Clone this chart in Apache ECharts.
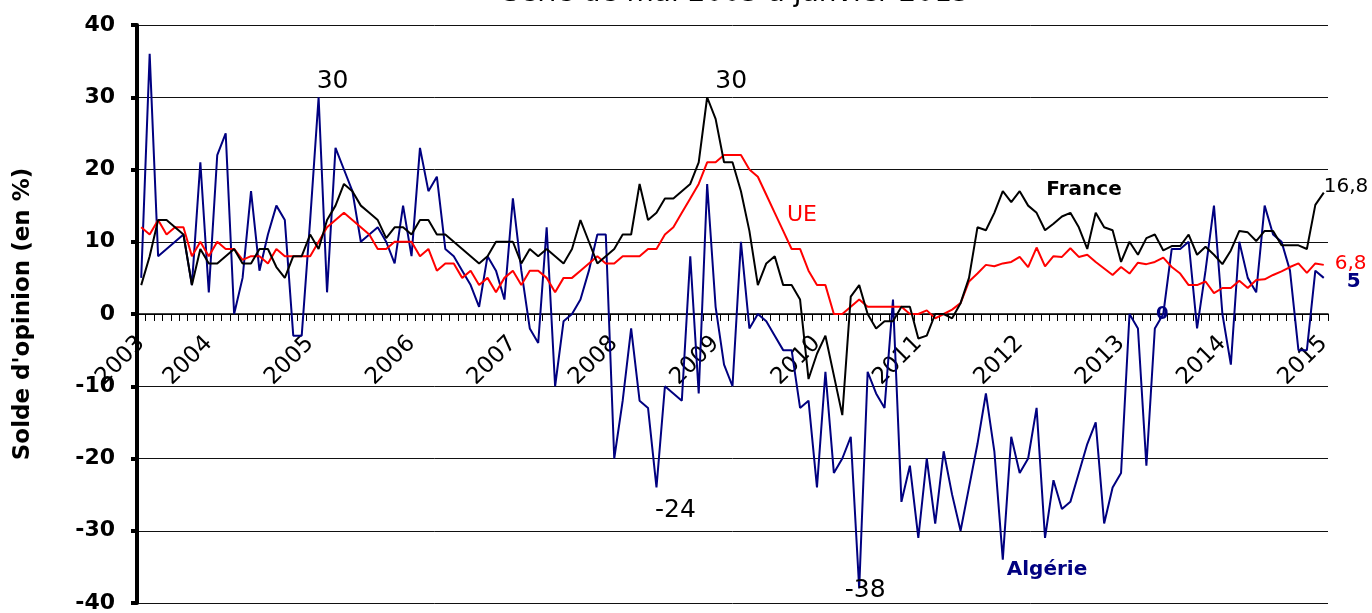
<!DOCTYPE html>
<html>
<head>
<meta charset="utf-8">
<script src="https://cdn.jsdelivr.net/npm/echarts@6/dist/echarts.min.js"></script>
<style>
  html, body { margin: 0; padding: 0; background: #fff; }
  #main { width: 1372px; height: 613px; }
</style>
</head>
<body>
<div id="main"></div>
<script>
// série mensuelle de mai 2003 à janvier 2015 (141 mois)
const startYear = 2003;
const startMonth = 5;
const nMonths = 141;

const categories = [];
for (let k = 0; k < nMonths; k++) {
  const m = startMonth - 1 + k;
  const mm = (m % 12) + 1;
  categories.push((startYear + Math.floor(m / 12)) + '-' + (mm < 10 ? '0' + mm : mm));
}

// Algérie
const algerie = [
  5, 36, 8, 9, 10, 11, 4, 21, 3, 22,
  25, 0, 5, 17, 6, 11, 15, 13, -3, -3,
  13, 30, 3, 23, 20, 17, 10, 11, 12, 10,
  7, 15, 8, 23, 17, 19, 9, 8, 6, 4,
  1, 8, 6, 2, 16, 6, -2, -4, 12, -10,
  -1, 0, 2, 6, 11, 11, -20, -12, -2, -12,
  -13, -24, -10, -11, -12, 8, -11, 18, 1, -7,
  -10, 10, -2, 0, -1, -3, -5, -5, -13, -12,
  -24, -8, -22, -20, -17, -38, -8, -11, -13, 2,
  -26, -21, -31, -20, -29, -19, -25, -30, -24, -18,
  -11, -19, -34, -17, -22, -20, -13, -31, -23, -27,
  -26, -22, -18, -15, -29, -24, -22, 0, -2, -21,
  -2, 0, 9, 9, 10, -2, 6, 15, 0, -7,
  10, 5, 3, 15, 11, 10, 6, -5, -5, 6,
  5
];

// UE
const ue = [
  12, 11, 13, 11, 12, 12, 8, 10, 8, 10,
  9, 9, 7.5, 8, 8, 7, 9, 8, 8, 8,
  8, 10, 12, 13, 14, 13, 12, 11, 9, 9,
  10, 10, 10, 8, 9, 6, 7, 7, 5, 6,
  4, 5, 3, 5, 6, 4, 6, 6, 5, 3,
  5, 5, 6, 7, 8, 7, 7, 8, 8, 8,
  9, 9, 11, 12, 14, 16, 18, 21, 21, 22,
  22, 22, 20, 19, 16.5, 14, 11.5, 9, 9, 6,
  4, 4, 0, 0, 1, 2, 1, 1, 1, 1,
  1, 0, 0, 0.5, -0.6, 0, 0.6, 1.5, 4.5, 5.6,
  6.8, 6.6, 7, 7.2, 7.9, 6.5, 9.2, 6.6, 8, 7.9,
  9.1, 7.9, 8.2, 7.2, 6.3, 5.4, 6.5, 5.6, 7.1, 6.9,
  7.2, 7.8, 6.5, 5.6, 4, 4, 4.5, 2.9, 3.6, 3.6,
  4.6, 3.6, 4.7, 4.8, 5.4, 5.9, 6.5, 7, 5.7, 7,
  6.8
];

// France
const france = [
  4, 8, 13, 13, 12, 11, 4, 9, 7, 7,
  8, 9, 7, 7, 9, 9, 6.5, 5, 8, 8,
  11, 9, 13, 15, 18, 17, 15, 14, 13, 10.5,
  12, 12, 11, 13, 13, 11, 11, 10, 9, 8,
  7, 8, 10, 10, 10, 7, 9, 8, 9, 8,
  7, 9, 13, 10, 7, 8, 9, 11, 11, 18,
  13, 14, 16, 16, 17, 18, 21, 30, 27, 21,
  21, 17, 11.5, 4, 7, 8, 4, 4, 2, -9,
  -5.5, -3, -8.5, -14, 2.4, 4, 0, -2, -1, -1,
  1, 1, -3.4, -3, 0, 0, -0.6, 1.5, 5, 12,
  11.6, 14, 17, 15.5, 17, 15, 14, 11.6, 12.5, 13.5,
  14, 12, 9, 14, 12, 11.6, 7.2, 10, 8.2, 10.5,
  11, 8.8, 9.4, 9.4, 11, 8.2, 9.3, 8.2, 6.9, 8.8,
  11.5, 11.3, 10.1, 11.5, 11.5, 9.5, 9.5, 9.5, 9, 15.1,
  16.8
];

const FONT = '"DejaVu Sans", sans-serif';
const NAVY = '#000080';

let chart = echarts.init(document.getElementById('main'));

let option = {
  animation: false,
  backgroundColor: '#fff',
  grid: { left: 137, right: 44, top: 25, bottom: 10, containLabel: false, outerBoundsMode: 'none' },
  xAxis: {
    type: 'category',
    data: categories,
    boundaryGap: true,
    // l'axe des abscisses est placé sur la ligne 0 (grille de 578 px, zéro au milieu)
    offset: -289,
    axisLine: { onZero: false, lineStyle: { color: '#000', width: 1.5 } },
    axisTick: { show: true, interval: 0, length: 7, lineStyle: { color: '#000', width: 1 } },
    axisLabel: {
      interval: 0,
      rotate: 45,
      margin: 26,
      fontFamily: FONT,
      fontSize: 23,
      color: '#000',
      formatter: function (v, idx) {
        return (idx === 0 || v.slice(5) === '01') ? v.slice(0, 4) : '';
      }
    },
    splitLine: { show: false }
  },
  yAxis: {
    type: 'value',
    min: -40,
    max: 40,
    interval: 10,
    name: "Solde d'opinion (en %)",
    nameLocation: 'middle',
    nameGap: 102,
    nameTextStyle: { fontFamily: FONT, fontWeight: 'bold', fontSize: 23, color: '#000' },
    axisLine: { show: true, lineStyle: { color: '#000', width: 4 } },
    axisTick: { show: true, length: 6, lineStyle: { color: '#000', width: 4 } },
    axisLabel: { fontFamily: FONT, fontWeight: 'bold', fontSize: 22, color: '#000', margin: 22 },
    splitLine: { show: true, lineStyle: { color: '#111', width: 1 } }
  },
  series: [
    {
      name: 'Algérie', type: 'line', data: algerie, symbol: 'none',
      lineStyle: { color: NAVY, width: 2 }, z: 2
    },
    {
      name: 'UE', type: 'line', data: ue, symbol: 'none',
      lineStyle: { color: '#ff0000', width: 2 }, z: 3
    },
    {
      name: 'France', type: 'line', data: france, symbol: 'none',
      lineStyle: { color: '#000', width: 2 }, z: 4
    }
  ]
};
chart.setOption(option);

// étiquettes de points (positionnées par rapport au point de données)
const seriesData = [algerie, ue, france];
const notes = [
  { s: 0, i: 21, text: '30', dx: 14, dy: -16, size: 25, color: '#000', weight: 'normal', align: 'center' },
  { s: 2, i: 67, text: '30', dx: 24, dy: -16, size: 25, color: '#000', weight: 'normal', align: 'center' },
  { s: 0, i: 61, text: '-24', dx: 19, dy: 23, size: 25, color: '#000', weight: 'normal', align: 'center' },
  { s: 0, i: 85, text: '-38', dx: 6, dy: 2, size: 25, color: '#000', weight: 'normal', align: 'center' },
  { s: 0, i: 121, text: '0', dx: -1, dy: 0, size: 18, color: NAVY, weight: 'bold', align: 'center' },
  { s: 2, i: 140, text: '16,8', dx: 0, dy: -6, size: 20, color: '#000', weight: 'normal', align: 'left' },
  { s: 1, i: 140, text: '6,8', dx: 11, dy: -1, size: 20, color: '#ff0000', weight: 'normal', align: 'left' },
  { s: 0, i: 140, text: '5', dx: 23, dy: 4, size: 20, color: NAVY, weight: 'bold', align: 'left' }
];

const graphics = [];
notes.forEach(function (n) {
  const p = chart.convertToPixel({ xAxisIndex: 0, yAxisIndex: 0 }, [n.i, seriesData[n.s][n.i]]);
  graphics.push({
    type: 'text', x: p[0] + n.dx, y: p[1] + n.dy, z: 10,
    style: {
      text: n.text, fill: n.color, fontFamily: FONT, fontSize: n.size, fontWeight: n.weight,
      align: n.align, verticalAlign: 'middle'
    }
  });
});

// noms des séries et titre
const freeTexts = [
  { text: 'UE', x: 802, y: 215, size: 22, color: '#ff0000', weight: 'normal' },
  { text: 'France', x: 1084, y: 190, size: 20, color: '#000', weight: 'bold' },
  { text: 'Algérie', x: 1047, y: 570, size: 20, color: NAVY, weight: 'bold' }
];
freeTexts.forEach(function (t) {
  graphics.push({
    type: 'text', x: t.x, y: t.y, z: 10,
    style: {
      text: t.text, fill: t.color, fontFamily: FONT, fontSize: t.size, fontWeight: t.weight,
      align: 'center', verticalAlign: 'middle'
    }
  });
});
graphics.push({
  type: 'text', x: 736, y: 8, z: 10,
  style: {
    text: 'Série de mai 2003 à janvier 2015', fill: '#000', fontFamily: FONT, fontSize: 28,
    align: 'center', verticalAlign: 'bottom'
  }
});

chart.setOption({ graphic: graphics });
</script>
</body>
</html>
